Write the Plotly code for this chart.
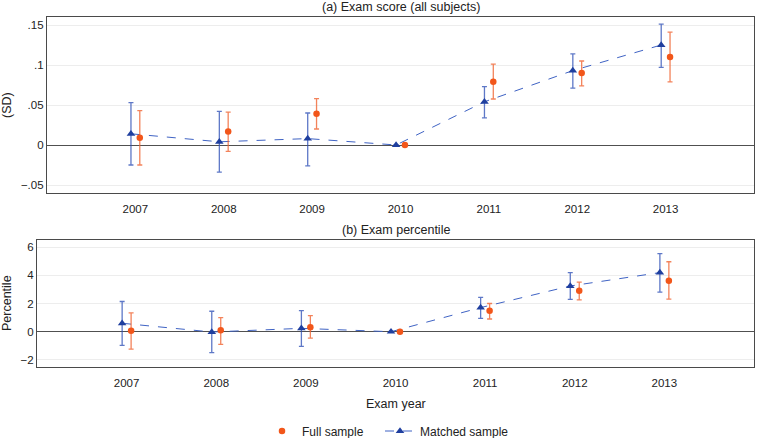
import plotly.graph_objects as go

years = [2007, 2008, 2009, 2010, 2011, 2012, 2013]
year_labels = ["2007", "2008", "2009", "2010", "2011", "2012", "2013"]

# Panel (a): Exam score (SD)
full_sd = [0.009, 0.017, 0.039, 0.0, 0.079, 0.090, 0.110]
full_sd_hi = [0.043, 0.041, 0.058, 0.0, 0.101, 0.105, 0.141]
full_sd_lo = [-0.025, -0.008, 0.020, 0.0, 0.0575, 0.074, 0.079]
match_sd = [0.014, 0.004, 0.008, 0.0, 0.054, 0.093, 0.125]
match_sd_hi = [0.053, 0.042, 0.040, 0.0, 0.073, 0.114, 0.151]
match_sd_lo = [-0.025, -0.034, -0.026, 0.0, 0.034, 0.071, 0.097]

# Panel (b): Exam percentile
full_pc = [0.07, 0.10, 0.31, 0.0, 1.48, 2.90, 3.62]
full_pc_hi = [1.34, 1.00, 1.14, 0.0, 2.00, 3.52, 4.96]
full_pc_lo = [-1.24, -0.90, -0.45, 0.0, 0.90, 2.26, 2.31]
match_pc = [0.60, -0.02, 0.24, 0.0, 1.71, 3.24, 4.19]
match_pc_hi = [2.14, 1.45, 1.50, 0.0, 2.43, 4.19, 5.53]
match_pc_lo = [-0.97, -1.48, -1.04, 0.0, 0.95, 2.29, 2.81]

sd_ticks = [-0.05, 0, 0.05, 0.1, 0.15]
sd_ticktext = ["\u2212.05", "0", ".05", ".1", ".15"]
pc_ticks = [-2, 0, 2, 4, 6]
pc_ticktext = ["\u22122", "0", "2", "4", "6"]

BLUE = "#1f3f9f"
BLUE_ERR = "rgba(40,75,180,0.75)"
BLUE_LINE = "#3f63c4"
ORANGE = "#f2561a"
ORANGE_ERR = "rgba(240,100,50,0.8)"
OFF = 0.05

W, H = 757, 438
FONT = "Liberation Sans, Arial, sans-serif"

fig = go.Figure()

def add_panel(xa, ya, full, fhi, flo, match, mhi, mlo, show):
    xm = [y - OFF for y in years]
    xf = [y + OFF for y in years]
    fig.add_trace(go.Scatter(
        x=xm, y=match, mode="lines+markers", name="Matched sample",
        xaxis=xa, yaxis=ya, showlegend=show, legend="legend2",
        line=dict(color=BLUE_LINE, width=1, dash="dash"),
        marker=dict(symbol="triangle-up", size=7.5, color=BLUE),
        error_y=dict(type="data", symmetric=False,
                     array=[h - v for h, v in zip(mhi, match)],
                     arrayminus=[v - l for v, l in zip(match, mlo)],
                     color=BLUE_ERR, thickness=1.3, width=2.5),
    ))
    fig.add_trace(go.Scatter(
        x=xf, y=full, mode="markers", name="Full sample",
        xaxis=xa, yaxis=ya, showlegend=show, legend="legend",
        marker=dict(symbol="circle", size=6.5, color=ORANGE),
        error_y=dict(type="data", symmetric=False,
                     array=[h - v for h, v in zip(fhi, full)],
                     arrayminus=[v - l for v, l in zip(full, flo)],
                     color=ORANGE_ERR, thickness=1.3, width=2.5),
    ))

add_panel("x", "y", full_sd, full_sd_hi, full_sd_lo, match_sd, match_sd_hi, match_sd_lo, True)
add_panel("x2", "y2", full_pc, full_pc_hi, full_pc_lo, match_pc, match_pc_hi, match_pc_lo, False)

axis_common = dict(showline=True, linecolor="#4a4a4a", linewidth=1.2, mirror=True,
                   ticks="", tickfont=dict(family=FONT, size=11.5, color="#222"))

legend_common = dict(orientation="h", xanchor="left", y=1 - 431 / H, yanchor="middle",
                     font=dict(family=FONT, size=12, color="#222"),
                     bgcolor="rgba(0,0,0,0)")

fig.update_layout(
    width=W, height=H, margin=dict(l=0, r=0, t=0, b=0, autoexpand=False),
    paper_bgcolor="white", plot_bgcolor="white",
    font=dict(family=FONT, size=12, color="#222"),
    xaxis=dict(domain=[47 / W, 754 / W], anchor="y", range=[2006, 2014],
               tickvals=years, ticktext=year_labels, showgrid=False, zeroline=False,
               ticklabelstandoff=5, **axis_common),
    yaxis=dict(domain=[1 - 193 / H, 1 - 17 / H], anchor="x", range=[-0.06, 0.16],
               tickvals=sd_ticks, ticktext=sd_ticktext, showgrid=True, gridcolor="#ededed",
               gridwidth=1, zeroline=True, zerolinecolor="#505050", zerolinewidth=1,
               **axis_common),
    xaxis2=dict(domain=[37 / W, 754 / W], anchor="y2", range=[2006, 2014],
                tickvals=years, ticktext=year_labels, showgrid=False, zeroline=False,
                ticklabelstandoff=5, **axis_common),
    yaxis2=dict(domain=[1 - 367 / H, 1 - 240 / H], anchor="x2", range=[-2.5, 6.5],
                tickvals=pc_ticks, ticktext=pc_ticktext, showgrid=True, gridcolor="#ededed",
                gridwidth=1, zeroline=True, zerolinecolor="#505050", zerolinewidth=1,
                **axis_common),
    legend=dict(x=262 / W, **legend_common),
    legend2=dict(x=380 / W, **legend_common),
    annotations=[
        dict(text="(a) Exam score (all subjects)", x=401 / W, y=1 - 7 / H, xref="paper", yref="paper",
             showarrow=False, xanchor="center", yanchor="middle", font=dict(size=12.5)),
        dict(text="(b) Exam percentile", x=396 / W, y=1 - 230 / H, xref="paper", yref="paper",
             showarrow=False, xanchor="center", yanchor="middle", font=dict(size=12.5)),
        dict(text="(SD)", x=7 / W, y=1 - 105 / H, xref="paper", yref="paper", textangle=-90,
             showarrow=False, xanchor="center", yanchor="middle", font=dict(size=12.5)),
        dict(text="Percentile", x=7 / W, y=1 - 303 / H, xref="paper", yref="paper", textangle=-90,
             showarrow=False, xanchor="center", yanchor="middle", font=dict(size=12.5)),
        dict(text="Exam year", x=396 / W, y=1 - 404 / H, xref="paper", yref="paper",
             showarrow=False, xanchor="center", yanchor="middle", font=dict(size=12.5)),
    ],
)

fig.write_html("out.html")
